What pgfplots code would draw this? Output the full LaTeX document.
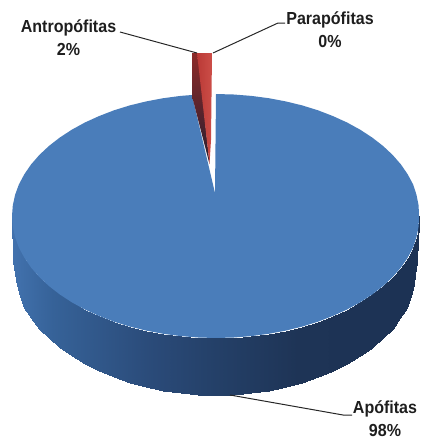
\documentclass[border=0pt]{standalone}
\usepackage{fontspec}
\setmainfont[FakeStretch=0.92]{Liberation Sans}
\usepackage{pgfplots}
\pgfplotsset{compat=1.18}
\usepackage{pgfplotstable}

\definecolor{faceblue}{RGB}{74,125,186}
\definecolor{redtop}{RGB}{186,58,54}
\definecolor{redlight}{RGB}{204,78,72}
\definecolor{reddark}{RGB}{140,42,40}
\definecolor{redblack}{RGB}{40,30,48}
\definecolor{labeltext}{RGB}{30,30,30}

\tikzset{lab/.style={font=\fontsize{17.5}{23}\selectfont\bfseries, text=labeltext, align=center, inner sep=0pt}}

% top face of the 98% slice, picture pixels
\pgfplotstableread{
x y
215 193
216 94
233.8 94.5
251.4 95.9
268.8 98.2
285.8 101.4
302.2 105.4
318 110.3
333 116.1
347.1 122.5
360.2 129.7
372.3 137.6
383.1 146
392.7 155
400.9 164.4
407.7 174.3
413.1 184.4
416.5 194.8
418.6 205.4
419 216
418.6 226.6
416.5 237.2
413.1 247.6
407.7 257.7
400.9 267.6
392.7 277
383.1 286
372.3 294.4
360.2 302.3
347.1 309.5
333 315.9
318 321.7
302.2 326.6
285.8 330.6
268.8 333.8
251.4 336.1
233.8 337.5
216 338
198.2 337.5
180.6 336.1
163.2 333.8
146.2 330.6
129.8 326.6
114 321.7
99 315.9
84.9 309.5
71.8 302.3
59.7 294.4
48.9 286
39.3 277
31.1 267.6
24.3 257.7
18.9 247.6
15.1 237.2
12.8 226.6
12 216
12.8 205.4
15.1 194.8
18.9 184.4
24.3 174.3
31.1 164.4
39.3 155
48.9 146
59.7 137.6
71.8 129.7
84.9 122.5
99 116.1
114 110.3
129.8 105.4
146.2 101.4
163.2 98.2
180.6 95.9
192 95
215 193
}\facetable

% side wall: upper edge left to right, then lower edge left to right
\pgfplotstableread{
x y
12 216
12.8 226.6
15.1 237.2
18.9 247.6
24.3 257.7
31.1 267.6
39.3 277
48.9 286
59.7 294.4
71.8 302.3
84.9 309.5
99 315.9
114 321.7
129.8 326.6
146.2 330.6
163.2 333.8
180.6 336.1
198.2 337.5
216 338
233.8 337.5
251.4 336.1
268.8 333.8
285.8 330.6
302.2 326.6
318 321.7
333 315.9
347.1 309.5
360.2 302.3
372.3 294.4
383.1 286
392.7 277
400.9 267.6
407.7 257.7
413.1 247.6
416.5 237.2
418.6 226.6
419 216
13.5 262
15.5 273.6
17.5 285.1
20 296.4
24.3 307.5
31.1 318.2
39.3 328.5
48.9 338.3
59.7 347.5
71.8 356
84.9 363.9
99 370.9
114 377.2
129.8 382.5
146.2 387
163.2 390.5
180.6 393
198.2 394.5
216 395
233.8 394.5
251.4 393
268.8 390.5
285.8 387
302.2 382.5
318 377.2
333 370.9
347.1 363.9
360.2 356
372.3 347.5
383.1 338.3
392.7 328.5
400 318.2
406.5 307.5
411 296.4
413.5 285.1
415 273.6
416.5 262
}\walltable

\begin{document}
\begin{tikzpicture}
\path[use as bounding box] (0,0) rectangle (421bp,440bp);
\begin{axis}[
    at={(0,0)},
    anchor=south west,
    scale only axis,
    width=421bp,
    height=440bp,
    xmin=0, xmax=421,
    ymin=0, ymax=440,
    y dir=reverse,
    hide axis,
    clip=false,
    colormap={wallblue}{
        rgb255(0)=(66,114,174)
        rgb255(2)=(54,98,152)
        rgb255(7)=(42,74,120)
        rgb255(10)=(36,64,104)
        rgb255(14)=(30,52,86)
        rgb255(20)=(28,50,84)
    },
    point meta min=12,
    point meta max=420,
]
% wall
\addplot[surf, shader=interp, mesh/rows=2, mesh/cols=37, mesh/ordering=x varies, point meta=x] table[x=x, y=y] {\walltable};
% face
\addplot[fill=faceblue, draw=none] table[x=x, y=y] {\facetable};
% 2% slice
\addplot[top color=reddark, bottom color=redblack, draw=none] coordinates {(192,53) (198,53) (209.5,164) (192,96) (192,53)};
\addplot[left color=redtop, right color=redlight, draw=none] coordinates {(197,53) (212,53) (211,140) (209.5,164) (197,53)};
% leader lines
\addplot[black!85, line width=1pt] coordinates {(120,32) (197,53)};
\addplot[black!85, line width=1pt] coordinates {(213,53) (278,23) (285,23)};
\addplot[black!85, line width=1pt] coordinates {(230,395) (343,415) (352,415)};
% labels
\node[lab] at (axis cs:68.5,37.5) {Antropófitas\\2\%};
\node[lab] at (axis cs:330,29.5) {Parapófitas\\0\%};
\node[lab] at (axis cs:385,418.5) {Apófitas\\98\%};
\end{axis}
\end{tikzpicture}
\end{document}
